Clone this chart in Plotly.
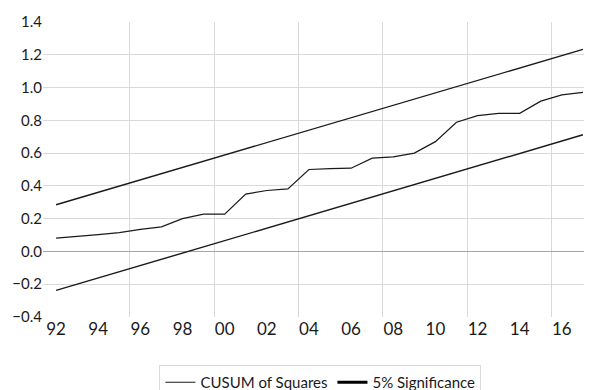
import plotly.graph_objects as go

years = list(range(1992, 2018))
cusum = [0.081, 0.090, 0.103, 0.115, 0.135, 0.150, 0.200, 0.228, 0.228, 0.350,
         0.372, 0.382, 0.500, 0.505, 0.508, 0.569, 0.577, 0.600, 0.670, 0.788,
         0.829, 0.843, 0.843, 0.917, 0.955, 0.970]
upper = [0.285, 0.323, 0.361, 0.399, 0.437, 0.475, 0.512, 0.550, 0.588, 0.626,
         0.664, 0.702, 0.740, 0.778, 0.816, 0.854, 0.891, 0.929, 0.967, 1.005,
         1.043, 1.081, 1.119, 1.157, 1.195, 1.233]
lower = [-0.238, -0.200, -0.162, -0.124, -0.086, -0.048, -0.010, 0.028, 0.066, 0.104,
         0.142, 0.180, 0.218, 0.256, 0.294, 0.332, 0.370, 0.408, 0.446, 0.484,
         0.522, 0.560, 0.598, 0.636, 0.674, 0.712]
tick_years = list(range(1992, 2018, 2))
tick_text = ["92", "94", "96", "98", "00", "02", "04", "06", "08", "10", "12", "14", "16"]
grid_years = [1995.5, 1999.5, 2003.5, 2007.5, 2011.5, 2015.5]
y_ticks = [-0.4, -0.2, 0.0, 0.2, 0.4, 0.6, 0.8, 1.0, 1.2, 1.4]
y_grid = [-0.2, 0.2, 0.4, 0.6, 0.8, 1.0, 1.2]

fig = go.Figure()
fig.add_trace(go.Scatter(x=years, y=cusum, mode="lines", name="CUSUM of Squares",
                         line=dict(color="#1a1a1a", width=1.2)))
fig.add_trace(go.Scatter(x=years, y=upper, mode="lines", showlegend=False,
                         line=dict(color="#1a1a1a", width=1.4)))
fig.add_trace(go.Scatter(x=years, y=lower, mode="lines", showlegend=False,
                         line=dict(color="#1a1a1a", width=1.4)))
fig.add_trace(go.Scatter(x=[None], y=[None], mode="lines", name="5% Significance",
                         line=dict(color="#000000", width=3)))
# helper axis carrying only the horizontal gridlines
fig.add_trace(go.Scatter(x=[None], y=[None], yaxis="y2", showlegend=False,
                         hoverinfo="skip"))

# page body has an 8px margin, so the figure is sized to fit the 592x390 window
fig.update_layout(
    width=584, height=382,
    margin=dict(l=35, r=0, t=14, b=73, autoexpand=False),
    paper_bgcolor="white", plot_bgcolor="white",
    font=dict(family="Lato, Open Sans, sans-serif", color="#1a1a1a"),
    showlegend=True,
    legend=dict(orientation="h", xref="container", x=0.535, xanchor="center",
                yref="container", y=0.0654, yanchor="top",
                bordercolor="#d9d9d9", borderwidth=1, font=dict(size=15),
                itemwidth=30, tracegroupgap=0),
    xaxis=dict(range=[1991.38, 2017.43], tickmode="array", tickvals=tick_years,
               ticktext=tick_text, showgrid=False, zeroline=False, showline=False,
               ticks="", tickfont=dict(size=17), automargin=False,
               minor=dict(tickmode="array", tickvals=grid_years, showgrid=True,
                          gridcolor="#d9d9d9", gridwidth=1, ticks="")),
    yaxis=dict(range=[-0.4, 1.4], tickmode="array", tickvals=y_ticks,
               tickformat=".1f", showgrid=False, zeroline=False,
               showline=False, ticks="", tickfont=dict(size=15), automargin=False),
    yaxis2=dict(range=[-0.4, 1.4], overlaying="y", side="right", tickmode="array",
                tickvals=y_grid, showticklabels=False, showgrid=True,
                gridcolor="#d9d9d9", gridwidth=1, zeroline=True,
                zerolinecolor="#a6a6a6", zerolinewidth=1, showline=False,
                ticks="", automargin=False),
)

fig.write_html("out.html")
